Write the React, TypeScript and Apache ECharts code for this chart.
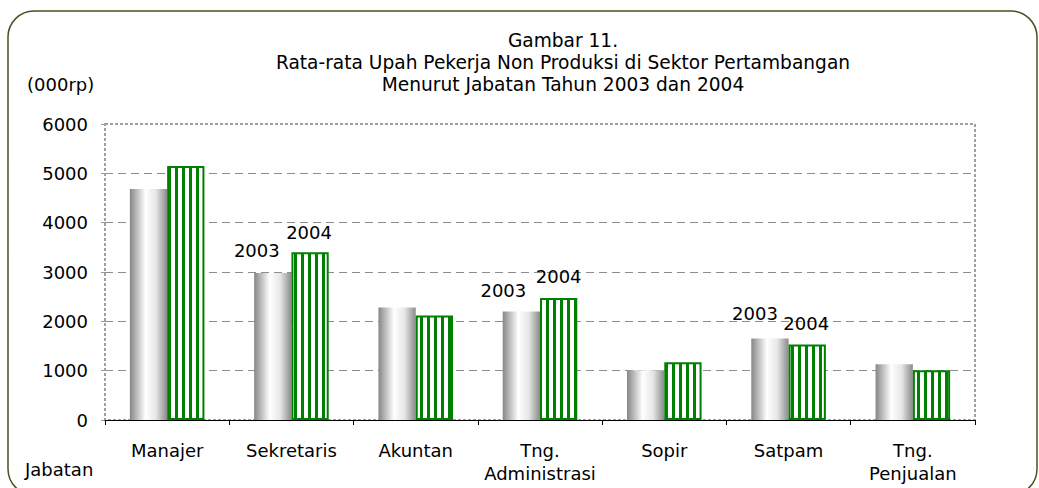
import React, { useEffect, useRef } from "react";
import * as echarts from "echarts";

const categories = [
  "Manajer",
  "Sekretaris",
  "Akuntan",
  "Tng.\nAdministrasi",
  "Sopir",
  "Satpam",
  "Tng.\nPenjualan",
];
const values2003 = [4680, 2980, 2280, 2200, 1010, 1650, 1130];
const values2004 = [5150, 3400, 2120, 2475, 1170, 1530, 1010];
const seriesNames = ["2003", "2004"];
const yTicks = { min: 0, max: 6000, interval: 1000 };
const labelledCategories = ["Sekretaris", "Tng.\nAdministrasi", "Satpam"];

const titleLines = [
  "Gambar 11.",
  "Rata-rata Upah Pekerja Non Produksi di Sektor Pertambangan",
  "Menurut Jabatan Tahun 2003 dan 2004",
];
const yUnit = "(000rp)";
const xName = "Jabatan";

const FONT = "DejaVu Sans";

// label offsets (styling only) for the year annotations
const offsets2003: Record<string, number[]> = {
  Sekretaris: [-16, -8],
  "Tng.\nAdministrasi": [-18, -7],
  Satpam: [-15, -11],
};
const offsets2004: Record<string, number[]> = {
  Sekretaris: [-1, -6],
  "Tng.\nAdministrasi": [0, -7],
  Satpam: [-1, -7],
};

function makeStripe(): HTMLCanvasElement {
  const c = document.createElement("canvas");
  c.width = 7;
  c.height = 8;
  const ctx = c.getContext("2d")!;
  ctx.fillStyle = "#ffffff";
  ctx.fillRect(0, 0, 7, 8);
  ctx.fillStyle = "#008000";
  ctx.fillRect(0, 0, 3, 8);
  return c;
}

export default function App() {
  const ref = useRef<HTMLDivElement>(null);
  useEffect(() => {
    if (!ref.current) return;
    const chart = echarts.init(ref.current, null, { renderer: "svg" });
    const stripe = makeStripe();

    const gridLeft = 105;
    const gridRight = 64;
    const gridTop = 124;
    const gridBottom = 68;

    const mkData = (vals: number[], name: string, offs: Record<string, number[]>) =>
      vals.map((v, i) => {
        const cat = categories[i];
        if (labelledCategories.includes(cat)) {
          return {
            value: v,
            label: {
              show: true,
              position: "top",
              formatter: name,
              offset: offs[cat],
              fontFamily: FONT,
              fontSize: 18,
              color: "#000",
            },
          };
        }
        return v;
      });

    chart.setOption({
      animation: false,
      backgroundColor: "#ffffff",
      title: {
        text: titleLines.join("\n"),
        left: 558,
        top: 24,
        textAlign: "center",
        textStyle: {
          fontFamily: FONT,
          fontSize: 18.6,
          fontWeight: "normal",
          color: "#000",
          lineHeight: 22,
        },
      },
      grid: { left: gridLeft, right: gridRight, top: gridTop, bottom: gridBottom },
      xAxis: {
        type: "category",
        data: categories,
        axisLine: { lineStyle: { color: "#000", width: 1 } },
        axisTick: { show: true, length: 5, lineStyle: { color: "#000" } },
        axisLabel: {
          fontFamily: FONT,
          fontSize: 18,
          lineHeight: 23,
          color: "#000",
          margin: 19,
          interval: 0,
        },
        z: 5,
      },
      yAxis: {
        type: "value",
        min: yTicks.min,
        max: yTicks.max,
        interval: yTicks.interval,
        axisLine: { show: false },
        axisTick: { show: true, length: 4, lineStyle: { color: "#999" } },
        axisLabel: {
          fontFamily: FONT,
          fontSize: 18,
          color: "#000",
          margin: 17,
          formatter: (v: number) => String(v),
        },
        splitLine: {
          show: true,
          showMinLine: false,
          showMaxLine: false,
          lineStyle: { color: "#8c8c8c", type: [8, 5], width: 1 },
        },
      },
      graphic: [
        {
          type: "rect",
          z: 1,
          silent: true,
          shape: { x: 8, y: 11, width: 1029, height: 484, r: 26 },
          style: { fill: "none", stroke: "#4f4f1f", lineWidth: 1.5 },
        },
        {
          type: "rect",
          z: 1,
          silent: true,
          shape: { x: gridLeft, y: gridTop, width: 1039 - gridLeft - gridRight, height: 488 - gridTop - gridBottom },
          style: { fill: "none", stroke: "#a0a0a0", lineWidth: 2, lineDash: [3, 2] },
        },
        {
          type: "text",
          left: 27,
          top: 75,
          style: { text: yUnit, font: `18px "${FONT}"`, fill: "#000" },
        },
        {
          type: "text",
          left: 25,
          top: 460,
          style: { text: xName, font: `18px "${FONT}"`, fill: "#000" },
        },
      ],
      series: [
        {
          name: seriesNames[0],
          type: "bar",
          barGap: "0%",
          barCategoryGap: "40%",
          data: mkData(values2003, seriesNames[0], offsets2003),
          itemStyle: {
            color: {
              type: "linear",
              x: 0,
              y: 0,
              x2: 1,
              y2: 0,
              colorStops: [
                { offset: 0, color: "#868686" },
                { offset: 0.42, color: "#ffffff" },
                { offset: 0.7, color: "#e6e6e6" },
                { offset: 1, color: "#8a8a8a" },
              ],
            },
            borderColor: "#a8a8a8",
            borderWidth: 0,
          },
        },
        {
          name: seriesNames[1],
          type: "bar",
          barGap: "0%",
          barCategoryGap: "40%",
          data: mkData(values2004, seriesNames[1], offsets2004),
          itemStyle: {
            color: { image: stripe, repeat: "repeat" },
            borderColor: "#008000",
            borderWidth: 2,
          },
        },
      ],
    });
    return () => chart.dispose();
  }, []);
  return (
    <div
      ref={ref}
      style={{ position: "fixed", left: 0, top: 0, width: 1039, height: 488 }}
    />
  );
}
